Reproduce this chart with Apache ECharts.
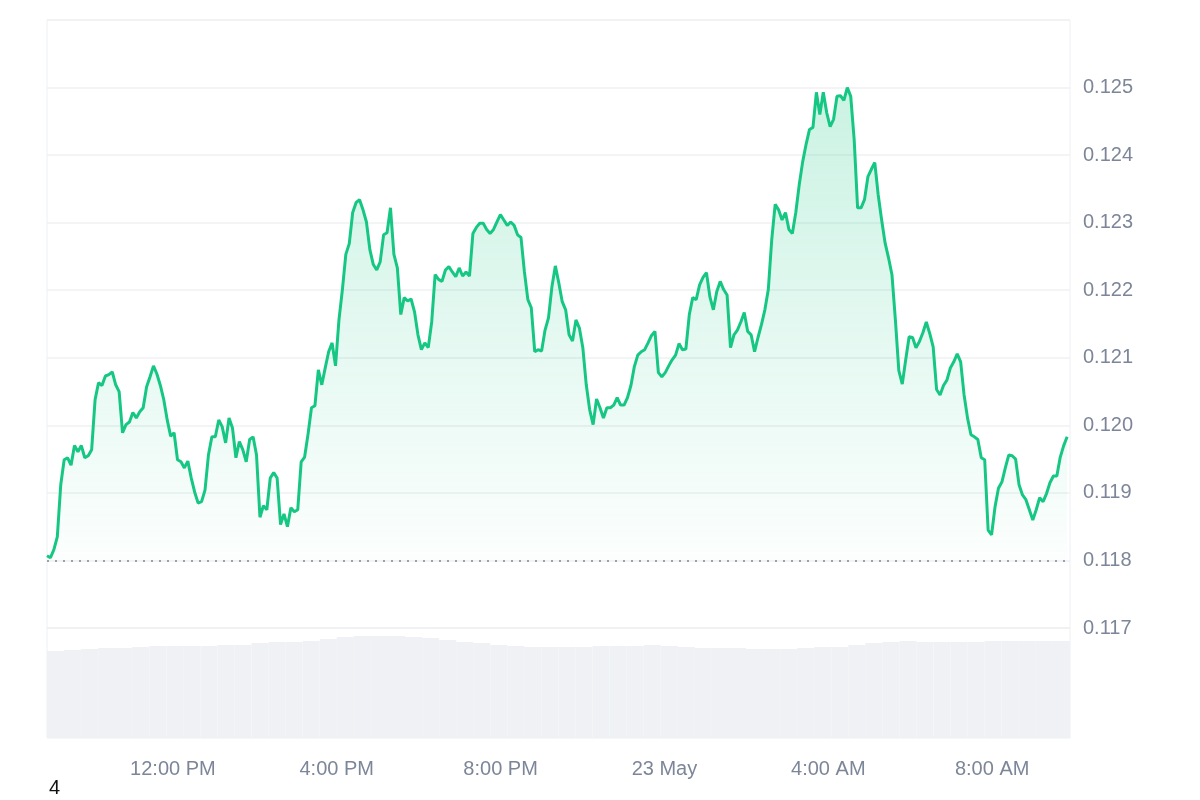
<!DOCTYPE html>
<html><head><meta charset="utf-8">
<script src="https://cdn.jsdelivr.net/npm/echarts@6/dist/echarts.min.js"></script>
<style>html,body{margin:0;padding:0;background:#fff}#c{width:1200px;height:800px}</style>
</head><body><div id="c"></div>
<script>
// time in hours since 00:00 22 May
const startHour = 8.927;
const endHour = 33.83;
const prices = [0.11807,0.11804,0.11816,0.11835,0.11912,0.11949,0.11952,0.11941,0.11970,0.11961,0.11970,0.11952,0.11955,0.11964,0.12038,0.12063,0.12059,0.12073,0.12075,0.12079,0.12060,0.12050,0.11989,0.12001,0.12005,0.12019,0.12011,0.12020,0.12026,0.12057,0.12072,0.12088,0.12076,0.12059,0.12038,0.12008,0.11984,0.11989,0.11949,0.11946,0.11937,0.11947,0.11922,0.11901,0.11885,0.11887,0.11904,0.11956,0.11983,0.11983,0.12008,0.11998,0.11974,0.12011,0.11996,0.11952,0.11976,0.11964,0.11946,0.11979,0.11983,0.11956,0.11864,0.11881,0.11875,0.11922,0.11930,0.11922,0.11853,0.11869,0.11850,0.11878,0.11872,0.11875,0.11946,0.11953,0.11987,0.12026,0.12029,0.12082,0.12060,0.12085,0.12109,0.12122,0.12088,0.12156,0.12201,0.12253,0.12269,0.12315,0.12330,0.12334,0.12319,0.12301,0.12260,0.12238,0.12230,0.12242,0.12282,0.12285,0.12322,0.12253,0.12233,0.12164,0.12189,0.12184,0.12187,0.12168,0.12134,0.12112,0.12122,0.12115,0.12153,0.12223,0.12216,0.12213,0.12230,0.12235,0.12227,0.12220,0.12233,0.12221,0.12227,0.12221,0.12284,0.12293,0.12299,0.12299,0.12290,0.12284,0.12290,0.12301,0.12312,0.12304,0.12296,0.12301,0.12296,0.12282,0.12278,0.12227,0.12186,0.12174,0.12109,0.12112,0.12110,0.12141,0.12159,0.12205,0.12236,0.12211,0.12183,0.12171,0.12134,0.12125,0.12156,0.12144,0.12115,0.12060,0.12023,0.12001,0.12039,0.12026,0.12011,0.12026,0.12026,0.12030,0.12041,0.12030,0.12030,0.12041,0.12059,0.12087,0.12104,0.12109,0.12112,0.12122,0.12133,0.12139,0.12078,0.12072,0.12078,0.12088,0.12097,0.12104,0.12121,0.12112,0.12113,0.12164,0.12189,0.12186,0.12208,0.12219,0.12226,0.12190,0.12171,0.12198,0.12213,0.12201,0.12193,0.12115,0.12134,0.12141,0.12153,0.12167,0.12139,0.12134,0.12109,0.12130,0.12149,0.12171,0.12201,0.12275,0.12327,0.12319,0.12304,0.12315,0.12290,0.12284,0.12315,0.12356,0.12390,0.12416,0.12438,0.12441,0.12493,0.12460,0.12493,0.12463,0.12442,0.12453,0.12487,0.12488,0.12481,0.12500,0.12487,0.12423,0.12322,0.12322,0.12334,0.12368,0.12379,0.12389,0.12341,0.12304,0.12270,0.12248,0.12223,0.12156,0.12081,0.12061,0.12097,0.12131,0.12130,0.12115,0.12124,0.12137,0.12153,0.12136,0.12116,0.12053,0.12045,0.12059,0.12067,0.12085,0.12094,0.12106,0.12094,0.12045,0.12011,0.11986,0.11983,0.11979,0.11952,0.11949,0.11845,0.11838,0.11879,0.11907,0.11916,0.11937,0.11956,0.11955,0.11950,0.11912,0.11897,0.11890,0.11875,0.11860,0.11875,0.11893,0.11887,0.11899,0.11915,0.11925,0.11925,0.11953,0.11970,0.11983];
const volumes = [87,88,89,90,90,91,92,92,92,92,93,93,95,96,96,97,99,101,102,102,102,101,100,98,96,95,93,92,91,91,91,91,92,92,92,93,92,91,90,90,90,89,89,89,90,91,91,93,95,96,97,96,96,96,96,97,97,97,97,97];
const tickHours = [12,16,20,24,28,32];
const tickLabels = {12:'12:00 PM',16:'4:00 PM',20:'8:00 PM',24:'23 May',28:'4:00 AM',32:'8:00 AM'};
const refPrice = 0.118;

const step = (endHour - startHour) / (prices.length - 1);
const lineData = prices.map((p, i) => [startHour + i * step, p]);
const chart = echarts.init(document.getElementById('c'));
const lbl = {color:'#7d8699', fontSize:20, fontFamily:'Liberation Sans, Arial, sans-serif'};
chart.setOption({
  animation:false,
  grid:[
    {left:47,right:130,top:20,height:608,show:true,borderColor:'#eef0f3',borderWidth:1},
    {left:47,right:130,top:628,height:110,show:true,borderColor:'#eef0f3',borderWidth:1}
  ],
  xAxis:[
    {type:'value',gridIndex:0,min:startHour,max:endHour+0.07,
     axisLine:{show:false},axisTick:{show:false},splitLine:{show:false},
     axisLabel:Object.assign({margin:131,customValues:tickHours,formatter:v=>tickLabels[Math.round(v)]||''},lbl)},
    {type:'category',gridIndex:1,data:volumes.map((v,i)=>i),show:false,boundaryGap:true}
  ],
  yAxis:[
    {type:'value',gridIndex:0,position:'right',min:0.117,max:0.126,interval:0.001,
     axisLine:{show:false},axisTick:{show:false},
     splitLine:{lineStyle:{color:'#eef0f3',width:1.5}},
     axisLabel:Object.assign({margin:13,showMaxLabel:false,formatter:v=>v.toFixed(3)},lbl)},
    {type:'value',gridIndex:1,min:0,max:110,show:false}
  ],
  series:[
    {type:'bar',xAxisIndex:1,yAxisIndex:1,data:volumes,barCategoryGap:'0%',
     itemStyle:{color:'#eff1f4'}},
    {type:'line',xAxisIndex:0,yAxisIndex:0,data:lineData,showSymbol:false,
     lineStyle:{color:'#16c784',width:3},
     areaStyle:{origin:refPrice,color:new echarts.graphic.LinearGradient(0,0,0,1,[
       {offset:0,color:'rgba(22,199,132,0.32)'},{offset:1,color:'rgba(22,199,132,0.02)'}])},
     markLine:{silent:true,symbol:'none',precision:4,label:{show:false},
       lineStyle:{color:'#9aa1ad',type:[2,6],width:2},data:[{yAxis:refPrice}]}}
  ],
  graphic:[{type:'text',left:49,top:778,style:{text:'4',fontSize:20,fill:'#111',fontFamily:'Liberation Sans, Arial'}}]
});
</script></body></html>
